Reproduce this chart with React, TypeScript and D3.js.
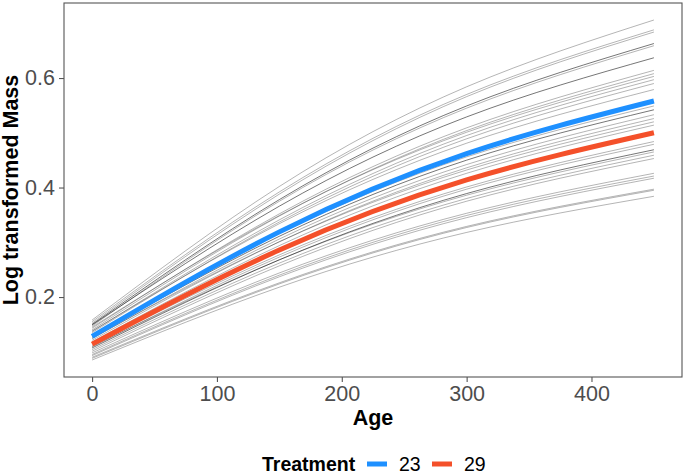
import { useEffect, useRef } from "react";
import * as d3 from "d3";

const AGES = [0, 150, 300, 450];

// Individual fits (grey), log transformed mass at AGES
const INDIVIDUALS: number[][] = [
  [0.158, 0.402, 0.584, 0.706],
  [0.155, 0.392, 0.57, 0.688],
  [0.152, 0.388, 0.566, 0.684],
  [0.15, 0.378, 0.549, 0.663],
  [0.147, 0.375, 0.545, 0.659],
  [0.149, 0.366, 0.529, 0.637],
  [0.143, 0.352, 0.509, 0.614],
  [0.14, 0.348, 0.504, 0.608],
  [0.145, 0.349, 0.501, 0.603],
  [0.137, 0.341, 0.495, 0.597],
  [0.135, 0.337, 0.489, 0.59],
  [0.138, 0.334, 0.481, 0.579],
  [0.13, 0.316, 0.456, 0.549],
  [0.127, 0.311, 0.45, 0.542],
  [0.124, 0.306, 0.442, 0.533],
  [0.121, 0.301, 0.436, 0.526],
  [0.125, 0.301, 0.432, 0.52],
  [0.118, 0.294, 0.426, 0.514],
  [0.112, 0.277, 0.401, 0.484],
  [0.109, 0.273, 0.397, 0.479],
  [0.107, 0.268, 0.389, 0.469],
  [0.11, 0.268, 0.386, 0.465],
  [0.104, 0.262, 0.38, 0.459],
  [0.101, 0.257, 0.375, 0.453],
  [0.098, 0.244, 0.353, 0.426],
  [0.095, 0.24, 0.349, 0.421],
  [0.093, 0.237, 0.345, 0.417],
  [0.09, 0.226, 0.329, 0.397],
  [0.088, 0.224, 0.327, 0.395],
  [0.085, 0.218, 0.318, 0.384],
];

// Treatment means
const TREATMENTS = ["23", "29"];
const TREATMENT_VALUES: number[][] = [
  [0.128, 0.319, 0.462, 0.558],
  [0.114, 0.286, 0.414, 0.5],
];

const X_TICKS = [0, 100, 200, 300, 400];
const Y_TICKS = [0.2, 0.4, 0.6];

const TREATMENT_COLORS = ["#1E90FF", "#F4502A"];
// overlapping individuals that render darker
const DARKER = new Set([3, 5, 13, 20]);

const W = 685;
const H = 474;
const FONT = "'Liberation Sans', Arial, sans-serif";

export default function App() {
  const svgRef = useRef<SVGSVGElement>(null);

  useEffect(() => {
    if (!svgRef.current) return;
    const svg = d3.select(svgRef.current);
    svg.selectAll("*").remove();

    const panel = { left: 64, right: 682, top: 3, bottom: 377 };

    const xExt = d3.extent(AGES) as [number, number];
    const xPad = (xExt[1] - xExt[0]) * 0.05;
    const x = d3
      .scaleLinear()
      .domain([xExt[0] - xPad, xExt[1] + xPad])
      .range([panel.left, panel.right]);

    const allY = [...INDIVIDUALS.flat(), ...TREATMENT_VALUES.flat()];
    const yExt = d3.extent(allY) as [number, number];
    const yPad = (yExt[1] - yExt[0]) * 0.05;
    const y = d3
      .scaleLinear()
      .domain([yExt[0] - yPad, yExt[1] + yPad])
      .range([panel.bottom, panel.top]);

    const line = d3
      .line<number>()
      .x((_, i) => x(AGES[i]))
      .y((d) => y(d))
      .curve(d3.curveNatural);

    const g = svg.append("g");

    // individual curves
    INDIVIDUALS.forEach((vals, i) => {
      g.append("path")
        .datum(vals)
        .attr("d", line)
        .attr("fill", "none")
        .attr("stroke", "#000")
        .attr("stroke-opacity", DARKER.has(i) ? 0.6 : 0.33)
        .attr("stroke-width", 0.9);
    });

    // treatment curves
    TREATMENT_VALUES.forEach((vals, i) => {
      g.append("path")
        .datum(vals)
        .attr("d", line)
        .attr("fill", "none")
        .attr("stroke", TREATMENT_COLORS[i])
        .attr("stroke-width", 5);
    });

    // panel border
    svg
      .append("rect")
      .attr("x", panel.left)
      .attr("y", panel.top)
      .attr("width", panel.right - panel.left)
      .attr("height", panel.bottom - panel.top)
      .attr("fill", "none")
      .attr("stroke", "#555")
      .attr("stroke-width", 1.1);

    // x axis
    const xAxis = svg
      .append("g")
      .attr("transform", `translate(0,${panel.bottom})`)
      .call(d3.axisBottom(x).tickValues(X_TICKS).tickSize(5).tickPadding(4).tickFormat(d3.format("d")));
    xAxis.select(".domain").remove();
    xAxis.selectAll("line").attr("stroke", "#555").attr("stroke-width", 1.1);
    xAxis
      .selectAll("text")
      .attr("fill", "#4D4D4D")
      .attr("font-size", 21.5)
      .attr("font-family", FONT);

    // y axis
    const yAxis = svg
      .append("g")
      .attr("transform", `translate(${panel.left},0)`)
      .call(d3.axisLeft(y).tickValues(Y_TICKS).tickSize(5).tickPadding(4).tickFormat(d3.format(".1f")));
    yAxis.select(".domain").remove();
    yAxis.selectAll("line").attr("stroke", "#555").attr("stroke-width", 1.1);
    yAxis
      .selectAll("text")
      .attr("fill", "#4D4D4D")
      .attr("font-size", 21.5)
      .attr("font-family", FONT);

    // axis titles
    svg
      .append("text")
      .attr("x", (panel.left + panel.right) / 2)
      .attr("y", 425)
      .attr("text-anchor", "middle")
      .attr("font-family", FONT)
      .attr("font-weight", "bold")
      .attr("font-size", 21.5)
      .text("Age");

    svg
      .append("text")
      .attr("transform", `translate(18,${(panel.top + panel.bottom) / 2}) rotate(-90)`)
      .attr("text-anchor", "middle")
      .attr("font-family", FONT)
      .attr("font-weight", "bold")
      .attr("font-size", 21.5)
      .text("Log transformed Mass");

    // legend
    const legend = svg.append("g").attr("transform", "translate(262,471)");
    legend
      .append("text")
      .attr("font-family", FONT)
      .attr("font-weight", "bold")
      .attr("font-size", 19.5)
      .text("Treatment");
    const keyX = [105, 170];
    TREATMENTS.forEach((t, i) => {
      legend
        .append("line")
        .attr("x1", keyX[i])
        .attr("x2", keyX[i] + 20)
        .attr("y1", -7)
        .attr("y2", -7)
        .attr("stroke", TREATMENT_COLORS[i])
        .attr("stroke-width", 5);
      legend
        .append("text")
        .attr("x", keyX[i] + 32)
        .attr("font-family", FONT)
        .attr("font-size", 19.5)
        .attr("fill", "#000")
        .text(t);
    });
  }, []);

  return (
    <svg
      ref={svgRef}
      width={W}
      height={H}
      style={{ position: "absolute", left: 0, top: 0, background: "#fff" }}
    />
  );
}
